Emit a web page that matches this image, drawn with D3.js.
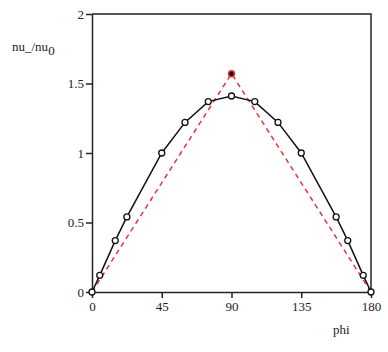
<!DOCTYPE html>
<html>
<head>
<meta charset="utf-8">
<script src="https://cdn.jsdelivr.net/npm/d3@7"></script>
<style>
  body { margin: 0; background: #fff; }
  text { font-family: "Liberation Serif", "DejaVu Serif", serif; font-size: 13px; fill: #222; }
</style>
</head>
<body>
<div id="wrapper"></div>
<script>
// data
const phi = [0, 5, 15, 22.5, 45, 60, 75, 90, 105, 120, 135, 157.5, 165, 175, 180]
const ratio = [0, 0.12, 0.37, 0.54, 1.0, 1.22, 1.37, 1.41, 1.37, 1.22, 1.0, 0.54, 0.37, 0.12, 0]
const limitPhi = [0, 90, 180]
const limitRatio = [0, 1.571, 0]
const xTicks = [0, 45, 90, 135, 180]
const yTicks = [0, 0.5, 1, 1.5, 2]

const dimensions = {
    width: 388,
    height: 352,
    margin: { top: 14, right: 17, bottom: 60, left: 92 },
}
dimensions.boundedWidth = dimensions.width - dimensions.margin.left - dimensions.margin.right
dimensions.boundedHeight = dimensions.height - dimensions.margin.top - dimensions.margin.bottom

const svg = d3.select("#wrapper").append("svg")
    .attr("width", dimensions.width)
    .attr("height", dimensions.height)

const bounds = svg.append("g")
    .attr("transform", `translate(${dimensions.margin.left},${dimensions.margin.top})`)

const xScale = d3.scaleLinear().domain([0, 180]).range([0, dimensions.boundedWidth])
const yScale = d3.scaleLinear().domain([0, 2]).range([dimensions.boundedHeight, 0])

// frame
bounds.append("path")
    .attr("d", `M0,0H${dimensions.boundedWidth}V${dimensions.boundedHeight}`)
    .attr("fill", "none")
    .attr("stroke", "#222")
    .attr("stroke-width", 1.5)

const xAxis = bounds.append("g")
    .attr("transform", `translate(0,${dimensions.boundedHeight})`)
    .call(d3.axisBottom(xScale).tickValues(xTicks).tickSize(6).tickPadding(4).tickSizeOuter(0))
const yAxis = bounds.append("g")
    .call(d3.axisLeft(yScale).tickValues(yTicks).tickSize(6).tickPadding(2).tickSizeOuter(0)
        .tickFormat(d3.format("~g")))

for (const ax of [xAxis, yAxis]) {
    ax.select(".domain").attr("stroke", "#222").attr("stroke-width", 1.5)
    ax.selectAll(".tick line").attr("stroke", "#222").attr("stroke-width", 1.5)
    ax.selectAll("text").attr("font-family", null).attr("font-size", null)
    ax.attr("font-family", null).attr("font-size", null)
}

// dashed limit curve
const line = d3.line().x(d => xScale(d[0])).y(d => yScale(d[1]))
bounds.append("path")
    .attr("d", line(d3.zip(limitPhi, limitRatio)))
    .attr("fill", "none")
    .attr("stroke", "#e8353c")
    .attr("stroke-width", 1.5)
    .attr("stroke-dasharray", "5,4")

bounds.append("circle")
    .attr("cx", xScale(limitPhi[1]))
    .attr("cy", yScale(limitRatio[1]))
    .attr("r", 3)
    .attr("fill", "#111")
    .attr("stroke", "#e8353c")
    .attr("stroke-width", 1.5)

// measured curve
const points = d3.zip(phi, ratio)
bounds.append("path")
    .attr("d", line(points))
    .attr("fill", "none")
    .attr("stroke", "#111")
    .attr("stroke-width", 1.5)

bounds.selectAll(".pt")
    .data(points)
    .join("circle")
    .attr("class", "pt")
    .attr("cx", d => xScale(d[0]))
    .attr("cy", d => yScale(d[1]))
    .attr("r", 3)
    .attr("fill", "#fff")
    .attr("stroke", "#111")
    .attr("stroke-width", 1.3)

// labels
const yLabel = svg.append("text")
    .attr("x", 12)
    .attr("y", 51)
yLabel.append("tspan").text("nu_/nu")
yLabel.append("tspan").attr("dy", 4).attr("font-size", 13).text("0")

svg.append("text")
    .attr("x", 333)
    .attr("y", 334)
    .text("phi")
</script>
</body>
</html>
